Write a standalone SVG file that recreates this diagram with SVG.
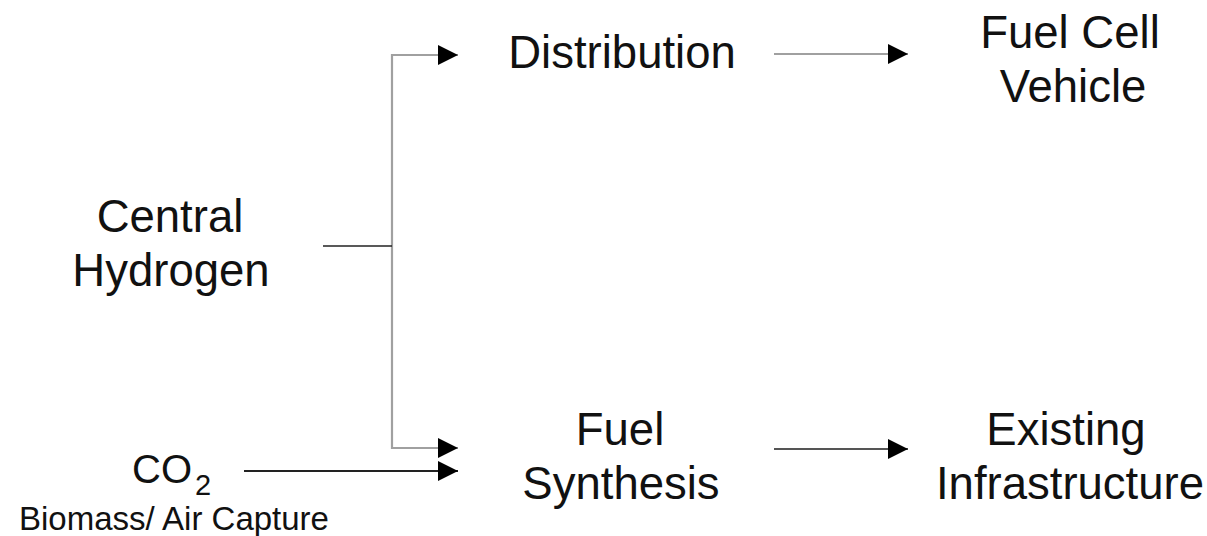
<svg xmlns="http://www.w3.org/2000/svg" width="1207" height="536" viewBox="0 0 1207 536">
  <style>
    .label { font-family: "Liberation Sans", Arial, sans-serif; font-size: 45.5px; fill: #111; text-anchor: middle; }
    .small { font-family: "Liberation Sans", Arial, sans-serif; font-size: 33px; fill: #111; }
    .flow { fill: none; stroke-width: 2.2; }
    .light { stroke: #a0a0a0; }
    .mid { stroke: #555; }
    .dark { stroke: #222; }
  </style>
  <defs>
    <marker id="arrow" markerUnits="userSpaceOnUse" markerWidth="21" markerHeight="20" refX="20" refY="10" orient="auto">
      <path d="M0,0 L20,10 L0,20 Z" fill="#000"/>
    </marker>
  </defs>
  <rect width="1207" height="536" fill="#fff"/>

  <g id="connectors">
    <!-- hydrogen split: trunk, branch to distribution, branch to synthesis -->
    <path class="flow light" d="M392,246 L392,55 L458,55" marker-end="url(#arrow)"/>
    <path class="flow light" d="M392,246 L392,448 L458,448" marker-end="url(#arrow)"/>
    <line x1="323" y1="246" x2="392" y2="246" stroke="#222" stroke-width="1.5"/>
    <!-- CO2 feed -->
    <line class="flow dark" x1="244" y1="471" x2="458" y2="471" marker-end="url(#arrow)"/>
    <!-- outputs -->
    <line class="flow light" x1="774" y1="54" x2="908" y2="54" marker-end="url(#arrow)"/>
    <line class="flow mid" x1="774" y1="449" x2="908" y2="449" marker-end="url(#arrow)"/>
  </g>

  <g id="central-hydrogen">
    <text class="label" x="170" y="232">Central</text>
    <text class="label" x="171" y="286">Hydrogen</text>
  </g>
  <g id="distribution">
    <text class="label" x="622" y="68">Distribution</text>
  </g>
  <g id="fuel-cell-vehicle">
    <text class="label" x="1070" y="48">Fuel Cell</text>
    <text class="label" x="1073" y="102">Vehicle</text>
  </g>
  <g id="co2">
    <text x="132" y="483" font-family="Liberation Sans, Arial, sans-serif" font-size="40" fill="#111">CO<tspan font-size="29" dx="3" dy="12">2</tspan></text>
    <text class="small" x="19" y="530">Biomass/ Air Capture</text>
  </g>
  <g id="fuel-synthesis">
    <text class="label" x="620" y="445">Fuel</text>
    <text class="label" x="621" y="499">Synthesis</text>
  </g>
  <g id="existing-infrastructure">
    <text class="label" x="1066" y="445">Existing</text>
    <text class="label" x="1070" y="499">Infrastructure</text>
  </g>
</svg>
